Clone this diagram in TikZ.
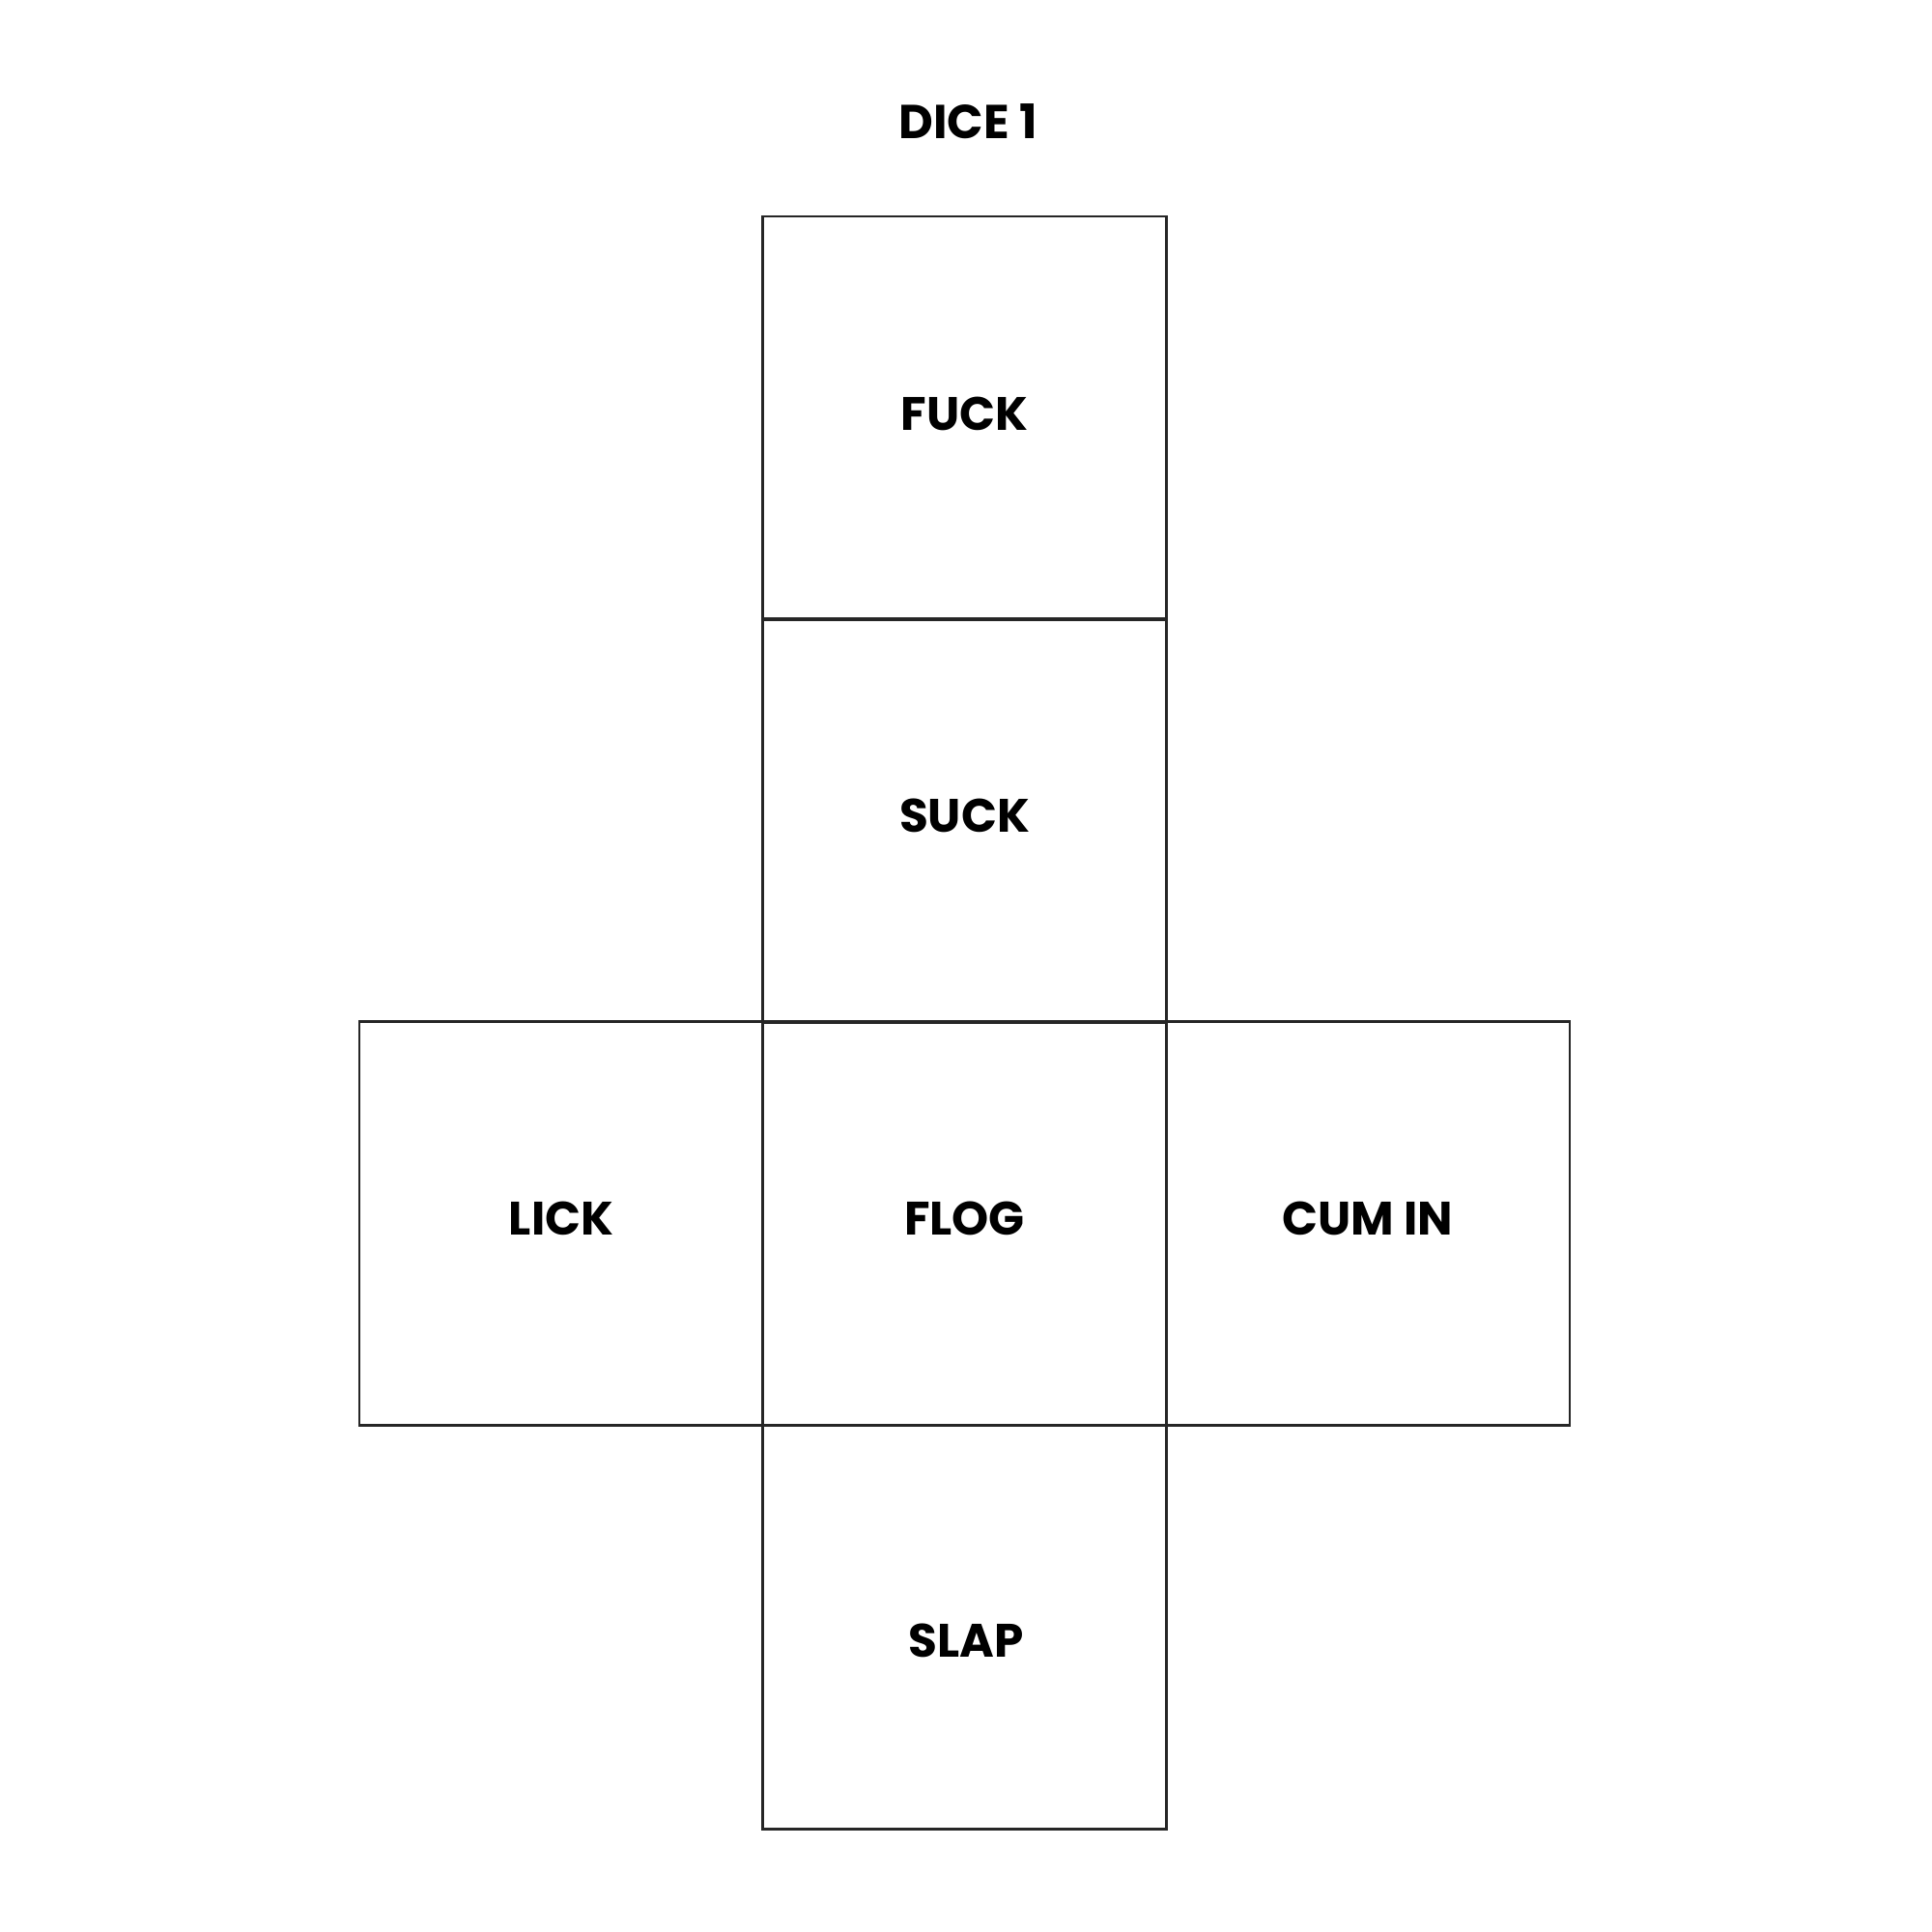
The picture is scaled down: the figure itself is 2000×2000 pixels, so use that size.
\documentclass[tikz,border=0pt]{standalone}
\usepackage{fontspec}
\setmainfont{Poppins}[BoldFont={* Bold}]
\begin{document}
\begin{tikzpicture}[x=0.01cm,y=-0.01cm,
  face/.style={draw=black!85,line width=0.75pt,minimum width=4.175cm,minimum height=4.175cm,inner sep=0pt,outer sep=0pt,text depth=0.1cm,font=\bfseries\fontsize{13.8}{16}\selectfont},
  ttl/.style={font=\bfseries\fontsize{14}{16}\selectfont}]
\useasboundingbox[fill=white] (0,0) rectangle (2000,2000);
\node[ttl] (title) at (1002,126) {DICE 1};
\node[face] (fuck) at (998.5,433) {FUCK};
\node[face] (suck) at (998.5,849.5) {SUCK};
\node[face] (lick) at (581,1266.5) {LICK};
\node[face] (flog) at (998.5,1266.5) {FLOG};
\node[face] (cum) at (1416,1266.5) {CUM IN};
\node[face] (slap) at (998.5,1684.5) {};
\node[font=\bfseries\fontsize{13.8}{16}\selectfont] (slaplbl) at (1000,1698) {SLAP};
\end{tikzpicture}
\end{document}
